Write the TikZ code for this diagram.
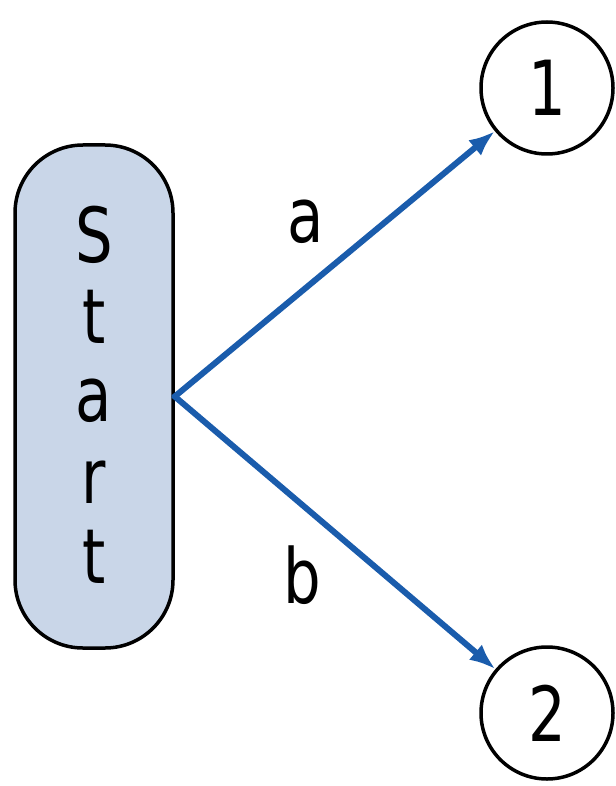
\documentclass[tikz,border=0pt]{standalone}
\usepackage{fontspec}
\setmainfont[FakeStretch=0.78]{DejaVu Sans}
\usetikzlibrary{arrows.meta}
\definecolor{startfill}{RGB}{201,214,232}
\definecolor{edgeblue}{RGB}{26,92,172}
\tikzset{
  startbox/.style={draw=black, line width=3.5pt, fill=startfill, rounded corners=68pt,
    minimum width=158pt, minimum height=503pt, inner sep=0pt},
  statecircle/.style={circle, draw=black, line width=3.5pt, minimum size=132pt, inner sep=0pt,
    font=\fontsize{76}{76}\selectfont},
  letter/.style={anchor=base, inner sep=0pt, font=\fontsize{76}{76}\selectfont},
  edgelabel/.style={anchor=base, inner sep=0pt, font=\fontsize{76}{76}\selectfont},
  transition/.style={draw=edgeblue, line width=6pt, -{Latex[length=26pt,width=20pt]}, shorten <=-2pt}
}
\begin{document}
\begin{tikzpicture}[x=1pt,y=-1pt]
  \useasboundingbox (0,0) rectangle (615,786);
  % start state with its vertical label
  \node[startbox] (start) at (94,396.5) {};
  \node[letter] (s1) at (94,262) {S};
  \node[letter] (s2) at (94,343) {t};
  \node[letter] (s3) at (94,421) {a};
  \node[letter] (s4) at (94,503) {r};
  \node[letter] (s5) at (94,583) {t};
  % target states
  \node[statecircle] (one) at (547,88) {1};
  \node[statecircle] (two) at (547,713) {2};
  % transitions
  \draw[transition] (start.east) -- (one);
  \draw[transition] (start.east) -- (two);
  \node[edgelabel] (la) at (306,243) {a};
  \node[edgelabel] (lb) at (302,603) {b};
\end{tikzpicture}
\end{document}
